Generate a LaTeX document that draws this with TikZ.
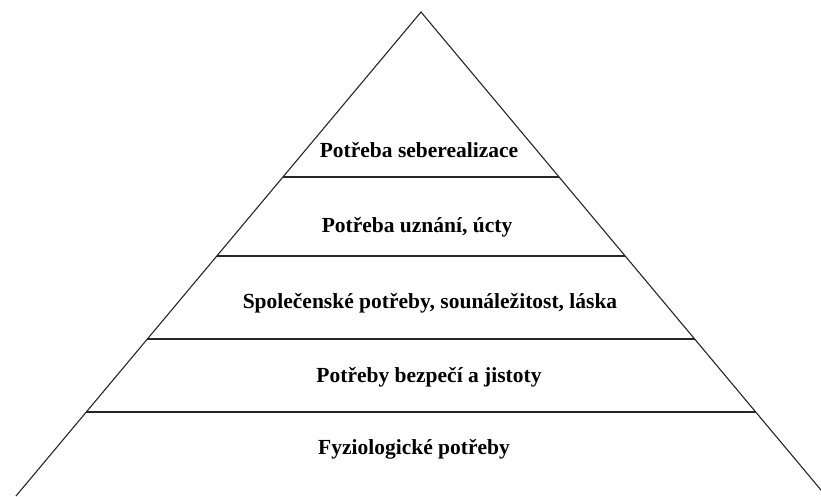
\documentclass[tikz,border=0pt]{standalone}
\usepackage{fontspec}
\setmainfont{Liberation Serif}
\usetikzlibrary{calc}
\begin{document}
\begin{tikzpicture}[x=1pt,y=-1pt,
  edge/.style={draw=black!85, line width=1.1pt},
  level/.style={anchor=base, font=\fontsize{21.5}{24}\selectfont\bfseries, inner sep=0pt}]
\useasboundingbox (0,0) rectangle (821,496);
\clip (0,0) rectangle (821,496);
\coordinate (apex) at (421,12);
\coordinate (bl) at (16,496);
\coordinate (br) at (826,496);
\draw[edge] (bl) -- (apex) -- (br);
\foreach \t/\n in {0.3409/a,0.5041/b,0.6756/c,0.8264/d}{
  \coordinate (l\n) at ($(apex)!\t!(bl)$);
  \coordinate (r\n) at ($(apex)!\t!(br)$);
  \draw[edge] (l\n) -- (r\n);
}
\node[level] (t1) at (419,157) {Potřeba seberealizace};
\node[level] (t2) at (417,232) {Potřeba uznání, úcty};
\node[level] (t3) at (430,308) {Společenské potřeby, sounáležitost, láska};
\node[level] (t4) at (429,382) {Potřeby bezpečí a jistoty};
\node[level] (t5) at (414,454) {Fyziologické potřeby};
\end{tikzpicture}
\end{document}
